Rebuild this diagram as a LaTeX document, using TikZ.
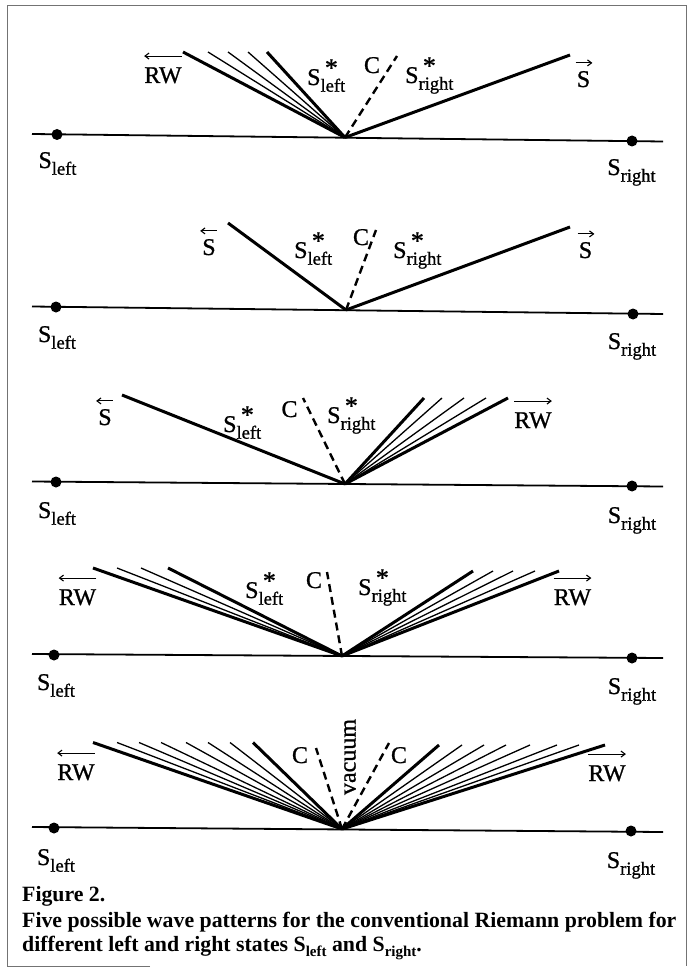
\documentclass[tikz,border=0pt]{standalone}
\usepackage{fontspec}
\setmainfont{Liberation Serif}
\newfontfamily\labfont[FakeBold=0.9]{Liberation Serif}
\usetikzlibrary{arrows.meta}
\newcommand{\sbs}[1]{\raisebox{-0.28em}{\fontsize{18.5}{18}\selectfont #1}}
\newcommand{\Sst}[1]{S\rlap{\raisebox{0.36em}{\fontsize{26}{26}\selectfont\,*}}\raisebox{-0.28em}{\fontsize{18.5}{18}\selectfont #1}}
\newcommand{\csb}[1]{\raisebox{-0.25em}{\fontsize{15}{15}\selectfont #1}}
\begin{document}
\begin{tikzpicture}[x=1pt,y=-1pt,
  lab/.style={font=\labfont\fontsize{24}{28}\selectfont, inner sep=0pt, anchor=base},
  wthick/.style={line width=3pt},
  wthin/.style={line width=1.3pt},
  cdash/.style={line width=2.4pt, dash pattern=on 8pt off 5pt},
  axisline/.style={line width=1.8pt},
  sdot/.style={circle, fill=black, inner sep=0pt, minimum size=11pt},
  ovl/.style={line width=1.1pt, -{Straight Barb[length=4pt,width=6pt]}},
  framel/.style={line width=1pt, black!55},
  captxt/.style={font=\bfseries\fontsize{21.8}{24}\selectfont, inner sep=0pt, anchor=base west}
]
\useasboundingbox (0,0) rectangle (691,968);
\draw[framel] (150,966) -- (7,966) -- (7,6) -- (686,6) -- (686,966);

% Panel 1
\coordinate (a1) at (32,134); \coordinate (b1) at (663,141.5);
\draw[axisline] (a1) -- (b1);
\node[sdot] (dl1) at (57,134.5) {}; \node[sdot] (dr1) at (632,141) {};
\node[lab] (sl1) at (57.5,168) {S\sbs{left}};
\node[lab] (sr1) at (631.5,175) {S\sbs{right}};
\coordinate (v1) at (345,137.5);
\foreach \x/\w [count=\i] in {183/wthick,208/wthin,228/wthin,248/wthin,267/wthick}{
  \coordinate (p1l\i) at (\x,52); \draw[\w] (v1) -- (p1l\i);}
\coordinate (c1) at (397,56); \draw[cdash] (v1) -- (c1);
\coordinate (r1) at (570,55); \draw[wthick] (v1) -- (r1);
\node[lab] (rw1) at (163,83) {RW};
\draw[ovl] ([yshift=11pt]rw1.north east) -- ([yshift=11pt]rw1.north west);
\node[lab, anchor=base west] (ssl1) at (307,85) {\Sst{left}};
\node[lab] (cc1) at (372,73) {C};
\node[lab, anchor=base west] (ssr1) at (405,83) {\Sst{right}};
\node[lab] (s1) at (583.5,87) {S};
\draw[ovl] ([yshift=8pt,xshift=-1pt]s1.north west) -- ([yshift=8pt,xshift=2pt]s1.north east);

% Panel 2
\coordinate (a2) at (32,306.5); \coordinate (b2) at (663,314);
\draw[axisline] (a2) -- (b2);
\node[sdot] (dl2) at (56,307) {}; \node[sdot] (dr2) at (633,314) {};
\node[lab] (sl2) at (57,342) {S\sbs{left}};
\node[lab] (sr2) at (632,349) {S\sbs{right}};
\coordinate (v2) at (346,310);
\coordinate (l2) at (228,223); \draw[wthick] (v2) -- (l2);
\coordinate (c2) at (376,230); \draw[cdash] (v2) -- (c2);
\coordinate (r2) at (570,227); \draw[wthick] (v2) -- (r2);
\node[lab] (s2a) at (209,255) {S};
\draw[ovl] ([yshift=8pt,xshift=1pt]s2a.north east) -- ([yshift=8pt,xshift=-2pt]s2a.north west);
\node[lab, anchor=base west] (ssl2) at (294,258) {\Sst{left}};
\node[lab] (cc2) at (361,245) {C};
\node[lab, anchor=base west] (ssr2) at (393,258) {\Sst{right}};
\node[lab] (s2b) at (585.5,258) {S};
\draw[ovl] ([yshift=8pt,xshift=-1pt]s2b.north west) -- ([yshift=8pt,xshift=2pt]s2b.north east);

% Panel 3
\coordinate (a3) at (32,481.5); \coordinate (b3) at (663,486.5);
\draw[axisline] (a3) -- (b3);
\node[sdot] (dl3) at (56,482) {}; \node[sdot] (dr3) at (632,486) {};
\node[lab] (sl3) at (57,518) {S\sbs{left}};
\node[lab] (sr3) at (632,523) {S\sbs{right}};
\coordinate (v3) at (345,484);
\coordinate (l3) at (122,395); \draw[wthick] (v3) -- (l3);
\coordinate (c3) at (303,398); \draw[cdash] (v3) -- (c3);
\foreach \x/\w [count=\i] in {424/wthick,442/wthin,464/wthin,486/wthin,508/wthick}{
  \coordinate (p3r\i) at (\x,398); \draw[\w] (v3) -- (p3r\i);}
\node[lab] (s3a) at (105,425) {S};
\draw[ovl] ([yshift=8pt,xshift=1pt]s3a.north east) -- ([yshift=8pt,xshift=-2pt]s3a.north west);
\node[lab, anchor=base west] (ssl3) at (223,432) {\Sst{left}};
\node[lab] (cc3) at (289.5,417) {C};
\node[lab, anchor=base west] (ssr3) at (327,423) {\Sst{right}};
\node[lab] (rw3) at (533,428) {RW};
\draw[ovl] ([yshift=11pt]rw3.north west) -- ([yshift=11pt]rw3.north east);

% Panel 4
\coordinate (a4) at (32,654); \coordinate (b4) at (663,658);
\draw[axisline] (a4) -- (b4);
\node[sdot] (dl4) at (54,655) {}; \node[sdot] (dr4) at (632,658) {};
\node[lab] (sl4) at (56,690) {S\sbs{left}};
\node[lab] (sr4) at (632,694) {S\sbs{right}};
\coordinate (v4) at (342,656);
\foreach \x/\w [count=\i] in {93/wthick,117/wthin,141/wthin,168/wthick}{
  \coordinate (p4l\i) at (\x,568); \draw[\w] (v4) -- (p4l\i);}
\coordinate (c4) at (327,572); \draw[cdash] (v4) -- (c4);
\foreach \x/\w [count=\i] in {473/wthick,493/wthin,513/wthin,535/wthin,559/wthick}{
  \coordinate (p4r\i) at (\x,571); \draw[\w] (v4) -- (p4r\i);}
\node[lab] (rw4a) at (77.5,605) {RW};
\draw[ovl] ([yshift=11pt]rw4a.north east) -- ([yshift=11pt]rw4a.north west);
\node[lab, anchor=base west] (ssl4) at (245,598) {\Sst{left}};
\node[lab] (cc4) at (314,588) {C};
\node[lab, anchor=base west] (ssr4) at (358,595) {\Sst{right}};
\node[lab] (rw4b) at (572.5,605) {RW};
\draw[ovl] ([yshift=11pt]rw4b.north west) -- ([yshift=11pt]rw4b.north east);

% Panel 5
\coordinate (a5) at (32,827); \coordinate (b5) at (663,832);
\draw[axisline] (a5) -- (b5);
\node[sdot] (dl5) at (54,828) {}; \node[sdot] (dr5) at (631,831) {};
\node[lab] (sl5) at (56,865) {S\sbs{left}};
\node[lab] (sr5) at (631,868) {S\sbs{right}};
\coordinate (v5) at (342,829);
\foreach \x/\w [count=\i] in {93/wthick,117/wthin,139/wthin,161/wthin,186/wthin,208/wthin,230/wthin,253/wthick}{
  \coordinate (p5l\i) at (\x,742.5); \draw[\w] (v5) -- (p5l\i);}
\coordinate (c5a) at (316,748); \draw[cdash] (v5) -- (c5a);
\coordinate (c5b) at (389,743); \draw[cdash] (v5) -- (c5b);
\foreach \x/\w [count=\i] in {439/wthick,462/wthin,484/wthin,506/wthin,530/wthin,557/wthin,579/wthin,605/wthick}{
  \coordinate (p5r\i) at (\x,745); \draw[\w] (v5) -- (p5r\i);}
\node[lab] (rw5a) at (76,780) {RW};
\draw[ovl] ([yshift=11pt]rw5a.north east) -- ([yshift=11pt]rw5a.north west);
\node[lab] (cc5a) at (300,763) {C};
\node[lab, anchor=center, rotate=90] (vac) at (350,757) {vacuum};
\node[lab] (cc5b) at (399,763) {C};
\node[lab] (rw5b) at (607,781) {RW};
\draw[ovl] ([yshift=11pt]rw5b.north west) -- ([yshift=11pt]rw5b.north east);

% Caption
\node[captxt] (fig) at (22,901) {Figure 2.};
\node[captxt] (cl1) at (22,927.5) {Five possible wave patterns for the conventional Riemann problem for};
\node[captxt] (cl2) at (22,951) {different left and right states S\csb{left} and S\csb{right}.};
\end{tikzpicture}
\end{document}
